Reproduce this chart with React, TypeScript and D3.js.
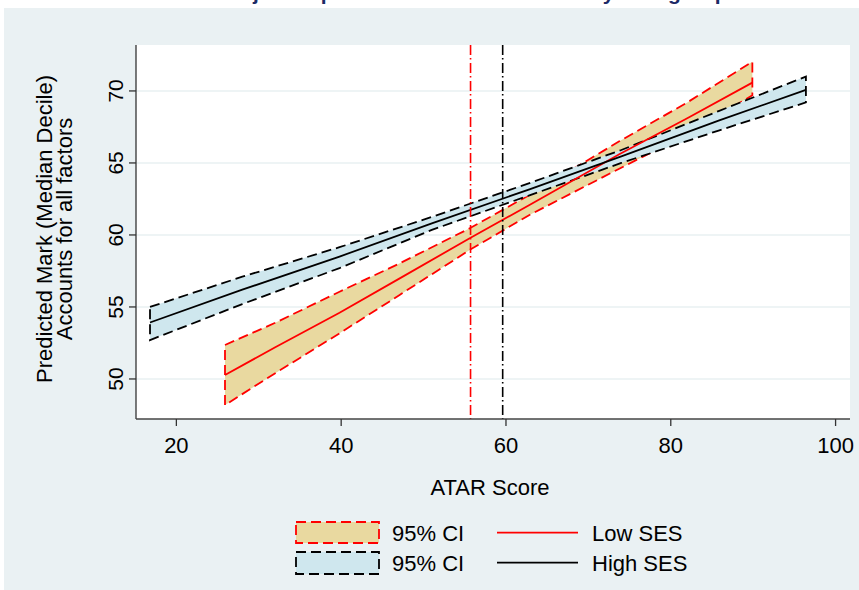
import React from "react";
import * as d3 from "d3";

// ---- data ----
const lowX = [25.9, 32, 39.8, 47, 55.6, 62.85, 73.75, 82, 89.9];
const lowFit = [50.28, 52.2, 54.6, 56.95, 59.77, 62.08, 65.6, 68.1, 70.58];
const lowUpper = [52.36, 53.9, 56.06, 58.0, 60.46, 62.78, 66.5, 69.2, 72.03];
const lowLower = [48.19, 50.4, 53.17, 55.8, 58.96, 61.39, 64.6, 67.0, 69.7];

const highX = [16.8, 28, 39.8, 51, 62.85, 74, 85.8, 96.4];
const highFit = [53.92, 56.2, 58.5, 60.8, 63.17, 65.45, 67.94, 70.07];
const highUpper = [55.0, 57.1, 59.15, 61.25, 63.6, 65.9, 68.6, 71.0];
const highLower = [52.7, 55.2, 57.7, 60.35, 62.75, 65.0, 67.25, 69.2];

const meanLines = [
  { x: 55.7, color: "#ff0000" },
  { x: 59.6, color: "#000000" },
];

const xTicks = [20, 40, 60, 80, 100];
const yTicks = [50, 55, 60, 65, 70];

const title = "Adjusted predictions of ATAR Score by SES group";
const xTitle = "ATAR Score";
const yTitle1 = "Predicted Mark (Median Decile)";
const yTitle2 = "Accounts for all factors";
const legendCI = "95% CI";
const legendLow = "Low SES";
const legendHigh = "High SES";

// ---- style ----
const W = 859;
const H = 590;
const FONT = "'Liberation Sans', Arial, Helvetica, sans-serif";
const BG = "#eaf1f3";
const GRID = "#e9f0f2";
const TAN = "#e9d9a0";
const BLUE = "#cfe7ee";
const RED = "#ff0000";

const plot = { left: 136, right: 850, top: 45, bottom: 419 };

export default function App() {
  const x = d3.scaleLinear().domain([15.1, 101.75]).range([plot.left, plot.right]);
  const y = d3.scaleLinear().domain([47.22, 73.19]).range([plot.bottom, plot.top]);

  const mkArea = (xs: number[], lo: number[], hi: number[]) =>
    d3
      .area<number>()
      .x((_, i) => x(xs[i]))
      .y0((_, i) => y(lo[i]))
      .y1((_, i) => y(hi[i]))(xs) as string;

  const mkLine = (xs: number[], ys: number[]) =>
    d3
      .line<number>()
      .x((_, i) => x(xs[i]))
      .y((_, i) => y(ys[i]))(xs) as string;

  const lowArea = mkArea(lowX, lowLower, lowUpper);
  const highArea = mkArea(highX, highLower, highUpper);
  const lowLine = mkLine(lowX, lowFit);
  const highLine = mkLine(highX, highFit);

  const dash = "10,5";
  const dashDot = "10,3,1.5,3.5";

  return (
    <svg
      width={W}
      height={H}
      viewBox={`0 0 ${W} ${H}`}
      style={{ position: "absolute", left: 0, top: 0, display: "block" }}
      fontFamily={FONT}
    >
      <rect x={0} y={0} width={W} height={H} fill="#ffffff" />
      <rect x={4} y={8} width={W - 4} height={H - 8} fill={BG} />
      <text x={225} y={-0.5} fontSize={21} fontWeight="bold" fill="#1b2a66">
        {title}
      </text>

      {/* plot region */}
      <rect
        x={plot.left}
        y={plot.top}
        width={plot.right - plot.left}
        height={plot.bottom - plot.top}
        fill="#ffffff"
      />
      {yTicks.map((t) => (
        <line
          key={"g" + t}
          x1={plot.left}
          x2={plot.right}
          y1={y(t)}
          y2={y(t)}
          stroke={GRID}
          strokeWidth={1.6}
        />
      ))}

      {/* CI bands */}
      <path d={lowArea} fill={TAN} stroke={RED} strokeWidth={1.8} strokeDasharray={dash} />
      <path d={highArea} fill={BLUE} stroke="#000" strokeWidth={1.8} strokeDasharray={dash} />

      {/* fitted lines */}
      <path d={lowLine} fill="none" stroke={RED} strokeWidth={1.8} />
      <path d={highLine} fill="none" stroke="#000" strokeWidth={1.8} />

      {/* mean lines */}
      {meanLines.map((m) => (
        <line
          key={"m" + m.x}
          x1={x(m.x)}
          x2={x(m.x)}
          y1={plot.top}
          y2={plot.bottom}
          stroke={m.color}
          strokeWidth={1.6}
          strokeDasharray={dashDot}
        />
      ))}

      {/* axes */}
      <line x1={plot.left} x2={plot.left} y1={plot.top} y2={plot.bottom} stroke="#333" strokeWidth={1.3} />
      <line x1={plot.left} x2={plot.right} y1={plot.bottom} y2={plot.bottom} stroke="#444" strokeWidth={1.6} />
      {yTicks.map((t) => (
        <g key={"yt" + t}>
          <line x1={plot.left - 7} x2={plot.left} y1={y(t)} y2={y(t)} stroke="#333" strokeWidth={1.3} />
          <text
            transform={`translate(123,${y(t)}) rotate(-90)`}
            textAnchor="middle"
            fontSize={21}
            fill="#000"
          >
            {t}
          </text>
        </g>
      ))}
      {xTicks.map((t) => (
        <g key={"xt" + t}>
          <line x1={x(t)} x2={x(t)} y1={plot.bottom} y2={plot.bottom + 7} stroke="#333" strokeWidth={1.3} />
          <text x={x(t)} y={453} textAnchor="middle" fontSize={22} fill="#000">
            {t}
          </text>
        </g>
      ))}

      <text x={490} y={495} textAnchor="middle" fontSize={22} fill="#000">
        {xTitle}
      </text>
      <text transform={`translate(52,229) rotate(-90)`} textAnchor="middle" fontSize={22} fill="#000">
        {yTitle1}
      </text>
      <text transform={`translate(72,229) rotate(-90)`} textAnchor="middle" fontSize={22} fill="#000">
        {yTitle2}
      </text>

      {/* legend */}
      <rect x={296} y={522} width={83} height={21} fill={TAN} stroke={RED} strokeWidth={1.8} strokeDasharray={dash} />
      <rect x={296} y={552} width={83} height={22} fill={BLUE} stroke="#000" strokeWidth={1.8} strokeDasharray={dash} />
      <text x={392} y={541} fontSize={22} fill="#000">{legendCI}</text>
      <text x={392} y={571} fontSize={22} fill="#000">{legendCI}</text>
      <line x1={497} x2={578} y1={532.7} y2={532.7} stroke={RED} strokeWidth={1.8} />
      <line x1={497} x2={578} y1={562.7} y2={562.7} stroke="#000" strokeWidth={1.8} />
      <text x={592} y={541} fontSize={22} fill="#000">{legendLow}</text>
      <text x={592} y={571} fontSize={22} fill="#000">{legendHigh}</text>
    </svg>
  );
}
